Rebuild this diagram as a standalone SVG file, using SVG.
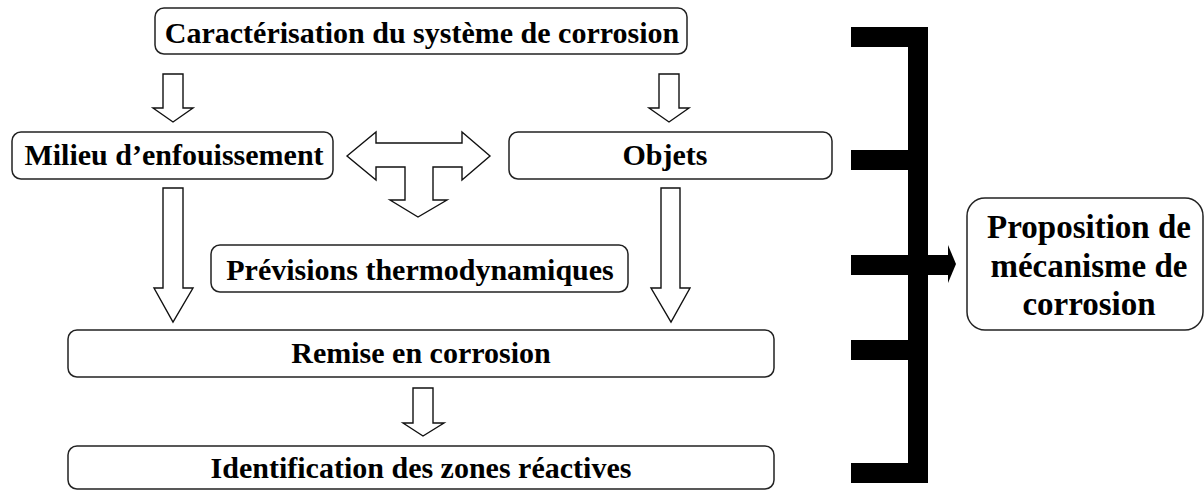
<svg xmlns="http://www.w3.org/2000/svg" width="1204" height="490" viewBox="0 0 1204 490">
<style>
.box{fill:#fff;stroke:#222;stroke-width:1.5}
.arr{fill:#fff;stroke:#111;stroke-width:1.4;stroke-linejoin:miter}
.t{font-family:"Liberation Serif","Times New Roman",serif;font-weight:bold;font-size:30px;fill:#000;text-anchor:middle}
.tb{font-size:33px}
.bar{fill:#000}
</style>
<rect width="1204" height="490" fill="#fff"/>
<g id="connectors">
<polygon class="arr" points="163,74 183,74 183,108 193,108 173,122 153,108 163,108"/>
<polygon class="arr" points="659,74 679,74 679,108 689,108 669,122 649,108 659,108"/>
<polygon class="arr" points="347,156 376,132 376,143 462,143 462,132 490,156 462,180 462,167 433,167 433,200 447,200 418,217 390,200 405,200 405,167 376,167 376,180"/>
<polygon class="arr" points="163,188 183,188 183,288 193,288 173,322 154,288 163,288"/>
<polygon class="arr" points="661,188 680,188 680,288 690,288 671,322 651,288 661,288"/>
<polygon class="arr" points="413,388 433,388 433,423 444,423 423,436 403,423 413,423"/>
<g id="bracket">
<rect class="bar" x="908" y="27" width="20" height="456"/>
<rect class="bar" x="851" y="27" width="57" height="20"/>
<rect class="bar" x="851" y="150" width="57" height="20"/>
<rect class="bar" x="851" y="255" width="97" height="20"/>
<polygon class="bar" points="948,245 956,264 948,283"/>
<rect class="bar" x="851" y="340" width="57" height="20"/>
<rect class="bar" x="851" y="463" width="57" height="20"/>
</g>
</g>
<g id="caracterisation">
<rect class="box" x="155" y="8" width="532" height="46" rx="9"/>
<text class="t" x="422" y="43">Caractérisation du système de corrosion</text>
</g>
<g id="milieu">
<rect class="box" x="12" y="132" width="321" height="47" rx="9"/>
<text class="t" x="174" y="165">Milieu d’enfouissement</text>
</g>
<g id="objets">
<rect class="box" x="509" y="132" width="323" height="47" rx="9"/>
<text class="t" x="665" y="165">Objets</text>
</g>
<g id="previsions">
<rect class="box" x="211" y="245" width="417" height="47" rx="9"/>
<text class="t" x="420" y="280">Prévisions thermodynamiques</text>
</g>
<g id="remise">
<rect class="box" x="68" y="330" width="706" height="47" rx="9"/>
<text class="t" x="421" y="363">Remise en corrosion</text>
</g>
<g id="identification">
<rect class="box" x="68" y="446" width="706" height="43" rx="9"/>
<text class="t" x="421" y="478">Identification des zones réactives</text>
</g>
<g id="proposition">
<rect class="box" x="967" y="198" width="236" height="132" rx="18"/>
<text class="t tb" x="1089" y="238">Proposition de</text>
<text class="t tb" x="1089" y="277">mécanisme de</text>
<text class="t tb" x="1089" y="315">corrosion</text>
</g>
</svg>
